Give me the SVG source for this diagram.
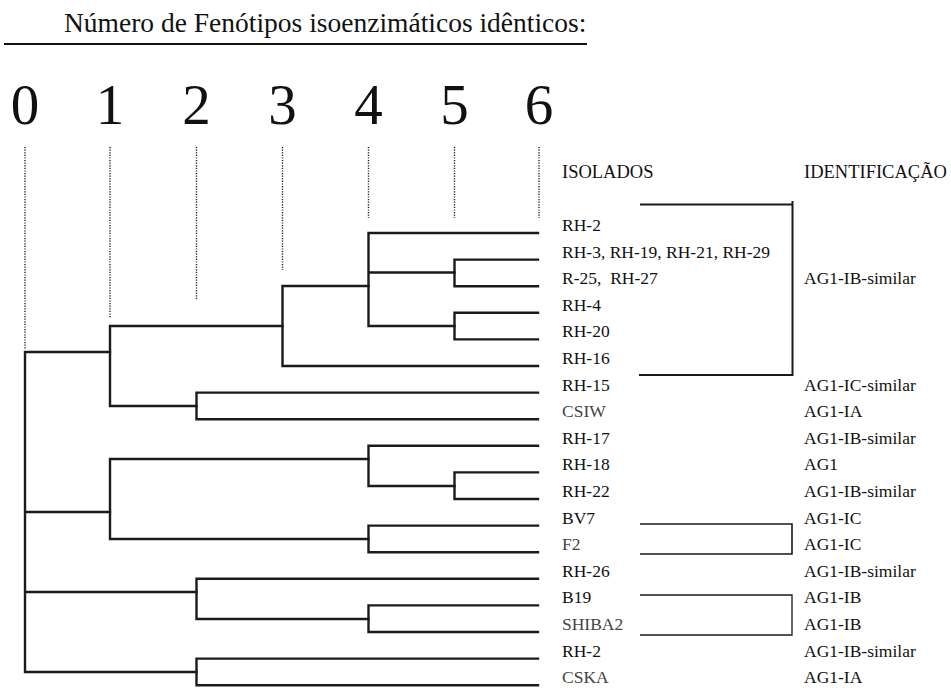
<svg xmlns="http://www.w3.org/2000/svg" width="951" height="690" viewBox="0 0 951 690">
<style>
text{font-family:"Liberation Serif","Times New Roman",serif;fill:#111}
.t{font-size:27.5px}
.n{font-size:57px;text-anchor:middle}
.h{font-size:18.5px}
.l{font-size:17.5px;white-space:pre}
.g{fill:#444}
.tree path{stroke:#1a1a1a;stroke-width:2.4;fill:none;stroke-linecap:square}
.dot{stroke:#222;stroke-width:1.4;stroke-dasharray:1.2 1.4;fill:none}
.br{stroke:#1a1a1a;fill:none}
</style>
<rect width="951" height="690" fill="#fff"/>
<g id="title">
<text class="t" x="64" y="32">Número de Fenótipos isoenzimáticos idênticos:</text>
<line x1="4" y1="44" x2="587" y2="44" stroke="#111" stroke-width="2"/>
</g>
<g id="scale">
<text class="n" x="25" y="124">0</text>
<text class="n" x="110" y="124">1</text>
<text class="n" x="196.5" y="124">2</text>
<text class="n" x="282.5" y="124">3</text>
<text class="n" x="368.5" y="124">4</text>
<text class="n" x="454.5" y="124">5</text>
<text class="n" x="539" y="124">6</text>
<path class="dot" d="M25 147V349M110 147V318M196.5 147V299M282.5 147V270M368.5 147V218M454.5 147V218M539 147V218"/>
</g>
<g id="headers">
<text class="h" x="562" y="178">ISOLADOS</text>
<text class="h" x="804" y="178">IDENTIFICAÇÃO</text>
</g>
<g id="connectors" class="tree">
<path d="M25 352V672M25 352H110M25 512H110M25 592H196.5M25 672H196.5"/>
<path d="M110 326V406M110 326H282.5M110 406H196.5"/>
<path d="M282.5 286V366M282.5 286H368.5M282.5 366H538"/>
<path d="M368.5 233V326M368.5 233H538M368.5 272.5H454.5M368.5 326H454.5"/>
<path d="M454.5 259.6V286.2M454.5 259.6H538M454.5 286.2H538"/>
<path d="M454.5 312.8V339.4M454.5 312.8H538M454.5 339.4H538"/>
<path d="M196.5 392.6V419.2M196.5 392.6H538M196.5 419.2H538"/>
<path d="M110 459V539M110 459H368.5M110 539H368.5"/>
<path d="M368.5 445.8V486M368.5 445.8H538M368.5 486H454.5"/>
<path d="M454.5 472.4V499M454.5 472.4H538M454.5 499H538"/>
<path d="M368.5 525.6V552.2M368.5 525.6H538M368.5 552.2H538"/>
<path d="M196.5 578.8V619M196.5 578.8H538M196.5 619H368.5"/>
<path d="M368.5 605.4V632M368.5 605.4H538M368.5 632H538"/>
<path d="M196.5 658.6V685.2M196.5 658.6H538M196.5 685.2H538"/>
</g>
<g id="brackets">
<path class="br" stroke-width="2" d="M640 204.5H792.5M792.5 201V376M639 375H792.5"/>
<path class="br" stroke-width="1.6" d="M640 524H792V554H640"/>
<path class="br" stroke-width="1.3" d="M640 595H792V635H640"/>
</g>
<g id="leaf-rh2a"><text class="l" x="562" y="231">RH-2</text></g>
<g id="leaf-rh3"><text class="l" x="562" y="257.6">RH-3, RH-19, RH-21, RH-29</text></g>
<g id="leaf-r25"><text class="l" x="562" y="284.2">R-25,  RH-27</text><text class="l" x="804" y="284.2">AG1-IB-similar</text></g>
<g id="leaf-rh4"><text class="l" x="562" y="310.8">RH-4</text></g>
<g id="leaf-rh20"><text class="l" x="562" y="337.4">RH-20</text></g>
<g id="leaf-rh16"><text class="l" x="562" y="364">RH-16</text></g>
<g id="leaf-rh15"><text class="l" x="562" y="390.6">RH-15</text><text class="l" x="804" y="390.6">AG1-IC-similar</text></g>
<g id="leaf-csiw"><text class="l g" x="562" y="417.2">CSIW</text><text class="l" x="804" y="417.2">AG1-IA</text></g>
<g id="leaf-rh17"><text class="l" x="562" y="443.8">RH-17</text><text class="l" x="804" y="443.8">AG1-IB-similar</text></g>
<g id="leaf-rh18"><text class="l" x="562" y="470.4">RH-18</text><text class="l" x="804" y="470.4">AG1</text></g>
<g id="leaf-rh22"><text class="l" x="562" y="497">RH-22</text><text class="l" x="804" y="497">AG1-IB-similar</text></g>
<g id="leaf-bv7"><text class="l" x="562" y="523.6">BV7</text><text class="l" x="804" y="523.6">AG1-IC</text></g>
<g id="leaf-f2"><text class="l g" x="562" y="550.2">F2</text><text class="l" x="804" y="550.2">AG1-IC</text></g>
<g id="leaf-rh26"><text class="l" x="562" y="576.8">RH-26</text><text class="l" x="804" y="576.8">AG1-IB-similar</text></g>
<g id="leaf-b19"><text class="l" x="562" y="603.4">B19</text><text class="l" x="804" y="603.4">AG1-IB</text></g>
<g id="leaf-shiba2"><text class="l g" x="562" y="630">SHIBA2</text><text class="l" x="804" y="630">AG1-IB</text></g>
<g id="leaf-rh2b"><text class="l" x="562" y="656.6">RH-2</text><text class="l" x="804" y="656.6">AG1-IB-similar</text></g>
<g id="leaf-cska"><text class="l g" x="562" y="683.2">CSKA</text><text class="l" x="804" y="683.2">AG1-IA</text></g>
</svg>
